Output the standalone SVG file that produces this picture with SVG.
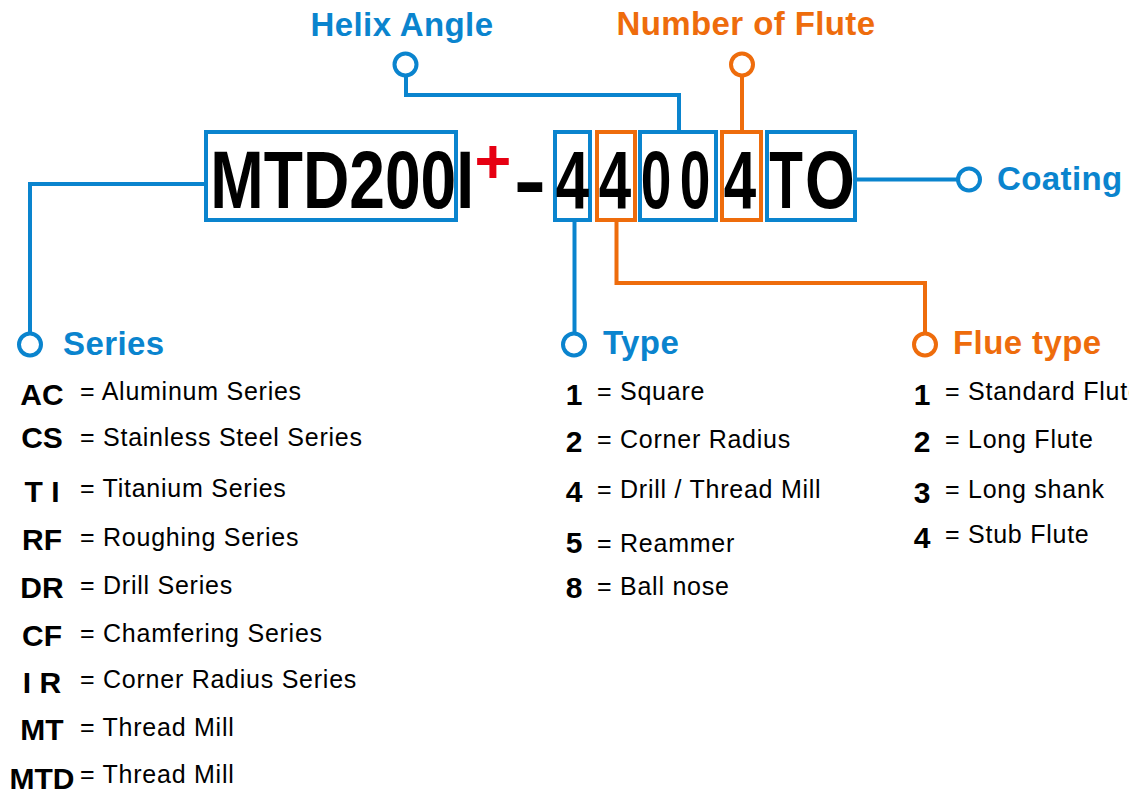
<svg xmlns="http://www.w3.org/2000/svg" width="1129" height="792" viewBox="0 0 1129 792">
<style>
.bl{stroke:#0A84CE}.or{stroke:#EE6C0C}
.box{fill:none;stroke-width:4}
.ln{fill:none;stroke-width:4}
.dot{fill:#fff;stroke-width:4}
.big{font-family:"Liberation Sans",Arial,sans-serif;font-weight:bold;font-size:81px;fill:#000;text-anchor:middle}
.hd{font-family:"Liberation Sans",Arial,sans-serif;font-weight:bold;font-size:33px;letter-spacing:0.4px}
.hb{fill:#0A84CE}.ho{fill:#EE6C0C}
.code{font-family:"Liberation Sans",Arial,sans-serif;font-weight:bold;font-size:30px;fill:#000;text-anchor:middle}
.desc{font-family:"Liberation Sans",Arial,sans-serif;font-size:25px;fill:#000;letter-spacing:0.75px}
</style>
<rect width="1129" height="792" fill="#fff"/>
<g id="connectors">
<polyline class="ln bl" points="206,184 30,184 30,333"/>
<polyline class="ln bl" points="406,76 406,95 679,95 679,132"/>
<polyline class="ln or" points="742,76 742,132"/>
<polyline class="ln bl" points="855,179.5 958,179.5"/>
<polyline class="ln bl" points="574.5,220 574.5,333"/>
<polyline class="ln or" points="616.5,220 616.5,283 925,283 925,333"/>
</g>
<g id="code">
<rect class="box bl" x="206" y="132" width="250" height="88"/>
<rect class="box bl" x="555" y="132" width="35" height="88"/>
<rect class="box or" x="597" y="132" width="38" height="88"/>
<rect class="box bl" x="640" y="132" width="76" height="88"/>
<rect class="box or" x="722" y="132" width="39" height="88"/>
<rect class="box bl" x="767" y="132" width="88" height="88"/>
<text class="big" x="210.3" y="208" textLength="263.8" lengthAdjust="spacingAndGlyphs" style="text-anchor:start">MTD200I</text>
<text class="big" transform="translate(493,182.7)" style="font-size:63px;fill:#E60012">+</text>
<text class="big" transform="translate(530,208) scale(1.2,1)">-</text>
<text class="big" transform="translate(572.5,208) scale(0.74,1)">4</text>
<text class="big" transform="translate(615,208) scale(0.72,1)">4</text>
<text class="big" transform="translate(656,208) scale(0.68,1)">0</text>
<text class="big" transform="translate(695,208) scale(0.68,1)">0</text>
<text class="big" transform="translate(740,208) scale(0.72,1)">4</text>
<text class="big" transform="translate(786,208) scale(0.68,1)">T</text>
<text class="big" transform="translate(830,208) scale(0.79,1)">O</text>
</g>
<g id="helix">
<circle class="dot bl" cx="405.5" cy="64.5" r="11"/>
<text class="hd hb" x="402" y="36" text-anchor="middle">Helix Angle</text>
</g>
<g id="flutes">
<circle class="dot or" cx="742" cy="64.5" r="11"/>
<text class="hd ho" x="746" y="35" text-anchor="middle">Number of Flute</text>
</g>
<g id="coating">
<circle class="dot bl" cx="969" cy="179.5" r="11"/>
<text class="hd hb" x="997" y="190">Coating</text>
</g>
<g id="series">
<circle class="dot bl" cx="30" cy="344.5" r="11"/>
<text class="hd hb" x="63" y="355">Series</text>
<text class="code" x="42" y="405">AC</text><text class="desc" x="80" y="400">= Aluminum Series</text>
<text class="code" x="42" y="448">CS</text><text class="desc" x="80" y="446">= Stainless Steel Series</text>
<text class="code" x="42" y="502">T I</text><text class="desc" x="80" y="497">= Titanium Series</text>
<text class="code" x="42" y="550">RF</text><text class="desc" x="80" y="546">= Roughing Series</text>
<text class="code" x="42" y="598">DR</text><text class="desc" x="80" y="594">= Drill Series</text>
<text class="code" x="42" y="646">CF</text><text class="desc" x="80" y="642">= Chamfering Series</text>
<text class="code" x="42" y="693">I R</text><text class="desc" x="80" y="688">= Corner Radius Series</text>
<text class="code" x="42" y="740">MT</text><text class="desc" x="80" y="736">= Thread Mill</text>
<text class="code" x="42" y="789">MTD</text><text class="desc" x="80" y="783">= Thread Mill</text>
</g>
<g id="type">
<circle class="dot bl" cx="574" cy="344.5" r="11"/>
<text class="hd hb" x="603" y="354">Type</text>
<text class="code" x="574" y="405">1</text><text class="desc" x="597" y="400">= Square</text>
<text class="code" x="574" y="452">2</text><text class="desc" x="597" y="448">= Corner Radius</text>
<text class="code" x="574" y="502">4</text><text class="desc" x="597" y="498">= Drill / Thread Mill</text>
<text class="code" x="574" y="553">5</text><text class="desc" x="597" y="552">= Reammer</text>
<text class="code" x="574" y="598">8</text><text class="desc" x="597" y="595">= Ball nose</text>
</g>
<g id="flutetype">
<circle class="dot or" cx="925" cy="344.5" r="11"/>
<text class="hd ho" x="953" y="354">Flue type</text>
<text class="code" x="922" y="405">1</text><text class="desc" x="945" y="400">= Standard Flute</text>
<text class="code" x="922" y="452">2</text><text class="desc" x="945" y="448">= Long Flute</text>
<text class="code" x="922" y="503">3</text><text class="desc" x="945" y="498">= Long shank</text>
<text class="code" x="922" y="548">4</text><text class="desc" x="945" y="543">= Stub Flute</text>
</g>
</svg>
